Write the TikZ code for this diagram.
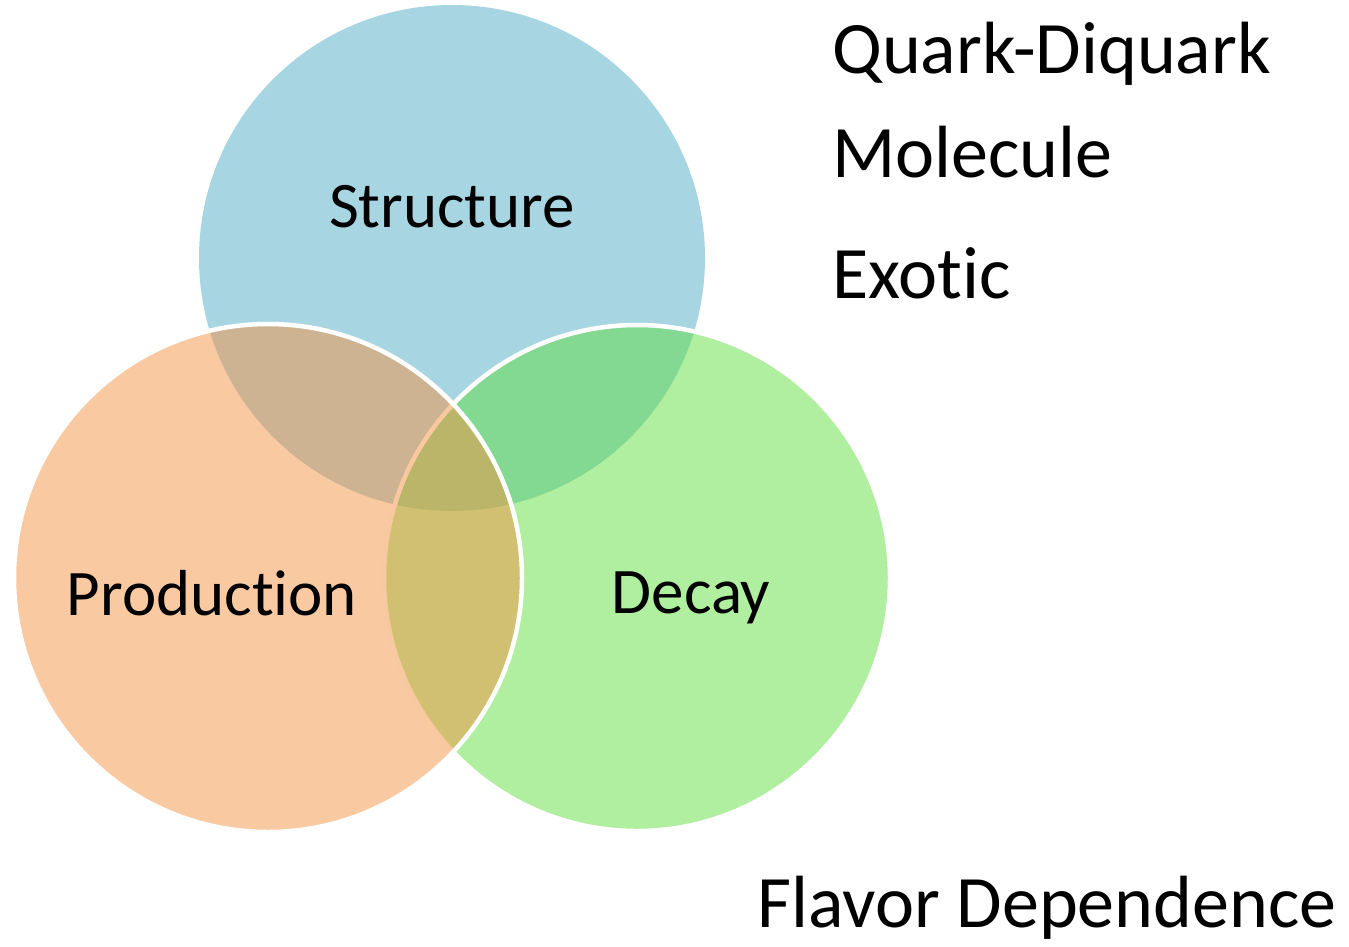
\documentclass[tikz,border=0pt]{standalone}
\usepackage{fontspec}
\setmainfont{Carlito}[Ligatures={NoCommon,NoContextual},RawFeature={-liga;-clig}]
\definecolor{cblue}{RGB}{167,213,226}
\definecolor{cgreen}{RGB}{97,221,65}
\definecolor{corange}{RGB}{243,147,67}
\tikzset{
  venn/.style={draw=white, line width=4.5pt},
  lbl/.style={font=\fontsize{65}{70}\selectfont, anchor=base, inner sep=0pt},
  side/.style={font=\fontsize{74}{80}\selectfont, anchor=base west, inner sep=0pt}
}
\begin{document}
\begin{tikzpicture}[x=1pt,y=-1pt]
\useasboundingbox (0,0) rectangle (1349,946);
\fill[cblue] (452,258) circle (253);
\path[venn, fill=cgreen, fill opacity=0.5] (637,578) circle (253);
\path[venn, fill=corange, fill opacity=0.5] (268,578) circle (254);
\node[lbl] (structure) at (452,227) {Structure};
\node[lbl] (production) at (212,615) {Production};
\node[lbl] (decay) at (691,613) {Decay};
\node[side] (qd) at (832,73) {Quark-Diquark};
\node[side] (mol) at (832,177) {Molecule};
\node[side] (exo) at (832,298) {Exotic};
\node[side] (flav) at (757,927) {Flavor Dependence};
\end{tikzpicture}
\end{document}
